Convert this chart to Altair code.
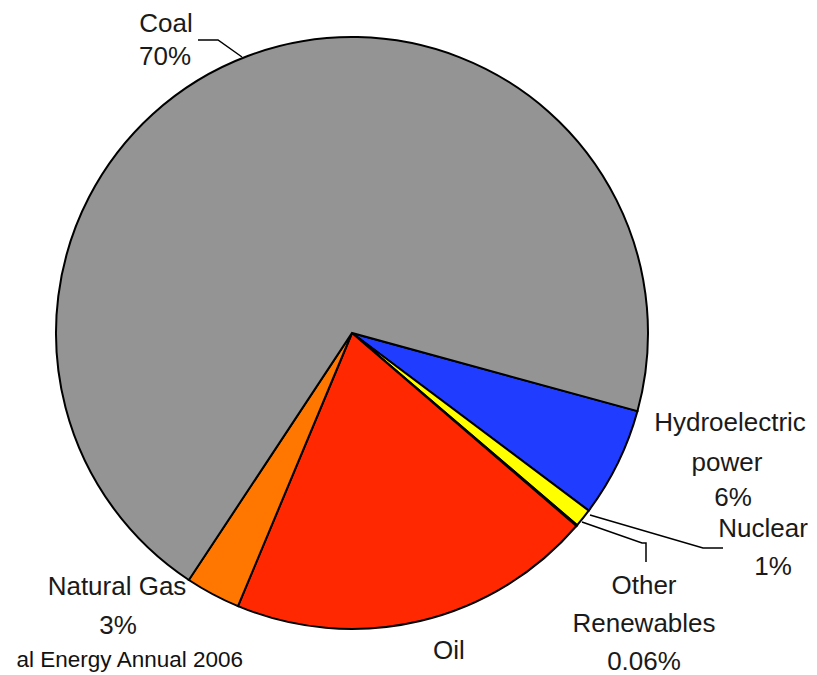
import math
import altair as alt
import pandas as pd

# ---- data ----
sources = ["Hydroelectric power", "Nuclear", "Other Renewables", "Oil", "Natural Gas", "Coal"]
shares = [6, 1, 0.06, 20, 3, 70]
slice_colors = ["#1f3cff", "#ffff00", "#33cc33", "#ff2800", "#ff7700", "#949494"]

label_lines = ["Coal", "70%", "Hydroelectric", "power", "6%", "Nuclear", "1%",
               "Other", "Renewables", "0.06%", "Oil", "Natural Gas", "3%"]
source_note = "al Energy Annual 2006"

# ---- layout (pixels inside the chart) ----
W, H = 801, 667
CX, CY, R = 344, 325, 296
START = math.radians(105.3)

label_x = [158, 157, 722, 719, 725, 755, 765, 636, 636, 636, 441, 109, 110]
label_y = [16, 49, 415, 455, 490, 521, 559, 578, 616, 654, 643, 579, 618]

leader_id = ["coal"] * 3 + ["nuc"] * 3 + ["oth"] * 4
leader_k = [0, 1, 2, 0, 1, 2, 0, 1, 2, 3]
leader_x = [190, 210, 234, 582, 695, 715, 574, 634, 638, 638]
leader_y = [32, 32, 49, 507, 540, 540, 514, 535, 535, 554]

pie_df = pd.DataFrame({"source": sources, "share": shares, "idx": range(len(sources))})
lab_df = pd.DataFrame({"t": label_lines, "x": label_x, "y": label_y})
lead_df = pd.DataFrame({"id": leader_id, "k": leader_k, "x": leader_x, "y": leader_y})
note_df = pd.DataFrame({"t": [source_note], "x": [235], "y": [652]})

pie = alt.Chart(pie_df).mark_arc(radius=R, stroke="black", strokeWidth=2).encode(
    theta=alt.Theta("share:Q", stack=True,
                    scale=alt.Scale(range=[START, START + 2 * math.pi])),
    color=alt.Color("source:N", scale=alt.Scale(domain=sources, range=slice_colors), legend=None),
    order=alt.Order("idx:Q"),
    x=alt.value(CX),
    y=alt.value(CY),
)

leaders = alt.Chart(lead_df).mark_line(color="black", strokeWidth=1.5).encode(
    x=alt.X("x:Q", scale=None, axis=None),
    y=alt.Y("y:Q", scale=None, axis=None),
    detail="id:N",
    order="k:Q",
)

labels = alt.Chart(lab_df).mark_text(
    font="Liberation Sans", fontSize=26, color="#1a1a1a", align="center", baseline="middle"
).encode(
    x=alt.X("x:Q", scale=None, axis=None),
    y=alt.Y("y:Q", scale=None, axis=None),
    text="t:N",
)

note = alt.Chart(note_df).mark_text(
    font="Liberation Sans", fontSize=22.5, color="#111111", align="right", baseline="middle"
).encode(
    x=alt.X("x:Q", scale=None, axis=None),
    y=alt.Y("y:Q", scale=None, axis=None),
    text="t:N",
)

chart = alt.layer(pie, leaders, labels, note).properties(
    width=W, height=H, autosize=alt.AutoSizeParams(type="none"), padding=0,
    background="white",
).configure_view(stroke=None)

chart.save("out.html", embed_options={"renderer": "svg", "actions": False})
